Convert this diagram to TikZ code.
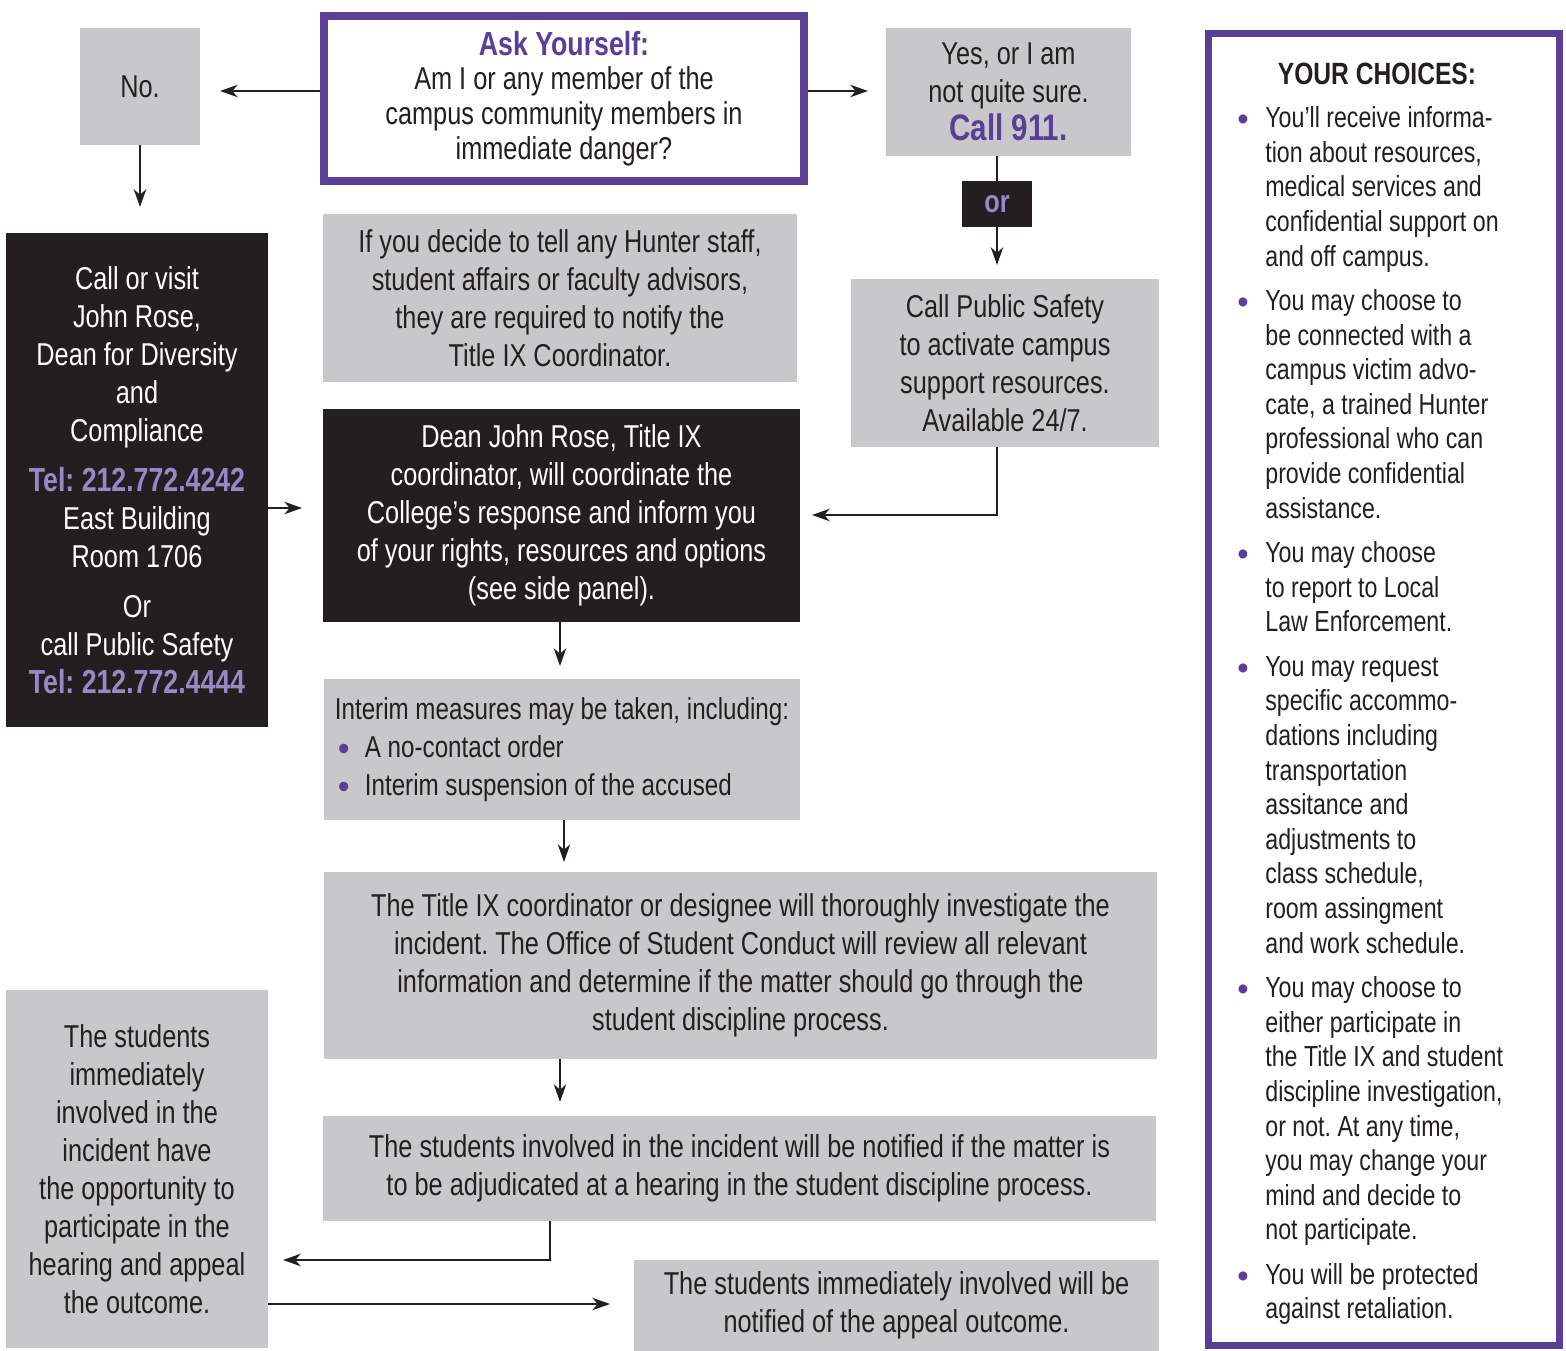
\documentclass[tikz,border=0pt]{standalone}
\usepackage{fontspec}
\usepackage{graphicx}
\setmainfont{Liberation Sans}[FakeStretch=0.8]
\frenchspacing
\usetikzlibrary{arrows.meta}
\definecolor{boxgray}{RGB}{200,200,202}
\definecolor{boxblack}{RGB}{35,31,32}
\definecolor{inkblack}{RGB}{35,31,32}
\definecolor{hunterpurple}{RGB}{90,62,152}
\definecolor{lightpurple}{RGB}{152,136,198}
\newcommand{\bigdot}{\raisebox{-0.1em}{\scalebox{1.4}[1.15]{\textcolor{hunterpurple}{\textbullet}}}}
\newcommand{\purpdot}{\makebox[0.56cm][l]{\bigdot}}
\newcommand{\interimdot}{\makebox[0.6cm][l]{\hspace{0.06cm}\bigdot}}

\begin{document}
\begin{tikzpicture}[x=0.02cm, y=-0.02cm,
	graybox/.style={fill=boxgray, text=inkblack, inner sep=0pt, align=center, font=\fontsize{18}{21.6}\selectfont},
	darkbox/.style={fill=boxblack, text=white, inner sep=0pt, align=center, font=\fontsize{18}{21.6}\selectfont},
	purplebox/.style={draw=hunterpurple, fill=white, text=inkblack, inner sep=0pt, align=center, font=\fontsize{18}{19.8}\selectfont},
	arr/.style={-{Stealth[length=10pt,width=7pt,inset=3pt]}, line width=1.3pt, draw=inkblack}]
	\useasboundingbox (0,0) rectangle (1566,1351);

	% question and first answers
	\node[purplebox, line width=4.5pt, minimum width=9.6cm, minimum height=3.3cm] (ask) at (564,98.5) {{\fontsize{19}{19.8}\selectfont\bfseries\color{hunterpurple}Ask Yourself:}\\Am I or any member of the\\campus community members in\\immediate danger?};
	\node[graybox, minimum width=2.4cm, minimum height=2.34cm] (no) at (140,86.5) {No.};
	\node[graybox, minimum width=4.9cm, minimum height=2.56cm] (yes) at (1008.5,92) {Yes, or I am\\not quite sure.\\{\fontsize{21}{21.6}\selectfont\bfseries\color{hunterpurple}Call 911.}};
	\node[graybox, minimum width=6.16cm, minimum height=3.36cm] (ps) at (1005,363) {Call Public Safety\\to activate campus\\support resources.\\Available 24/7.};
	\node[darkbox, minimum width=5.24cm, minimum height=9.88cm] (john) at (137,480) {Call or visit\\John Rose,\\Dean for Diversity\\and\\Compliance\\[7pt]{\fontsize{19}{21.6}\selectfont\bfseries\color{lightpurple}Tel: 212.772.4242}\\East Building\\Room 1706\\[7pt]Or\\call Public Safety\\{\fontsize{19}{21.6}\selectfont\bfseries\color{lightpurple}Tel: 212.772.4444}};

	% middle column
	\node[graybox, minimum width=9.48cm, minimum height=3.36cm] (hunter) at (560,298) {If you decide to tell any Hunter staff,\\student affairs or faculty advisors,\\they are required to notify the\\Title IX Coordinator.};
	\node[darkbox, minimum width=9.54cm, minimum height=4.26cm] (dean) at (561.5,515.5) {Dean John Rose, Title IX\\coordinator, will coordinate the\\College’s response and inform you\\of your rights, resources and options\\(see side panel).};
	\node[graybox, align=left, font=\fontsize{17.2}{21.6}\selectfont, minimum width=9.52cm, minimum height=2.82cm] (interim) at (562,749.5) {Interim measures may be taken, including:\\\interimdot A no-contact order\\\interimdot Interim suspension of the accused};
	\node[graybox, minimum width=16.66cm, minimum height=3.74cm] (title) at (740.5,965.5) {The Title IX coordinator or designee will thoroughly investigate the\\incident. The Office of Student Conduct will review all relevant\\information and determine if the matter should go through the\\student discipline process.};
	\node[graybox, minimum width=16.66cm, minimum height=2.1cm] (notified) at (739.5,1168.5) {The students involved in the incident will be notified if the matter is\\to be adjudicated at a hearing in the student discipline process.};
	\node[graybox, minimum width=5.24cm, minimum height=7.16cm] (students) at (137,1169) {The students\\immediately\\involved in the\\incident have\\the opportunity to\\participate in the\\hearing and appeal\\the outcome.};
	\node[graybox, minimum width=10.5cm, minimum height=1.82cm] (appeal) at (896.5,1305.5) {The students immediately involved will be\\notified of the appeal outcome.};

	% side panel
	\node[purplebox, line width=4pt, minimum width=7.02cm, minimum height=26.24cm] (choices) at (1384,689.5) {};
	\node[text=inkblack, font=\fontsize{17.5}{20}\selectfont\bfseries] (choicestitle) at (1377,74) {YOUR CHOICES:};
	\node[anchor=north west, inner sep=0pt, text=inkblack, font=\fontsize{16.5}{19.7}\selectfont] (choiceslist) at (1237,103) {%
		\begin{tabular}{@{}l@{}l@{}}
			\purpdot & You’ll receive informa-\\
			& tion about resources,\\
			& medical services and\\
			& confidential support on\\
			& and off campus.\\[5.6pt]
			\purpdot & You may choose to\\
			& be connected with a\\
			& campus victim advo-\\
			& cate, a trained Hunter\\
			& professional who can\\
			& provide confidential\\
			& assistance.\\[5.6pt]
			\purpdot & You may choose\\
			& to report to Local\\
			& Law Enforcement.\\[5.6pt]
			\purpdot & You may request\\
			& specific accommo-\\
			& dations including\\
			& transportation\\
			& assitance and\\
			& adjustments to\\
			& class schedule,\\
			& room assingment\\
			& and work schedule.\\[5.6pt]
			\purpdot & You may choose to\\
			& either participate in\\
			& the Title IX and student\\
			& discipline investigation,\\
			& or not. At any time,\\
			& you may change your\\
			& mind and decide to\\
			& not participate.\\[5.6pt]
			\purpdot & You will be protected\\
			& against retaliation.
		\end{tabular}};

	% arrow ends
	\coordinate (noin) at (220,91);
	\coordinate (yesin) at (868,91);
	\coordinate (johnin) at (140,207);
	\coordinate (psin) at (997,265);
	\coordinate (deanright) at (812,515);
	\coordinate (deanleft) at (302,508);
	\coordinate (interimin) at (560,666);
	\coordinate (titlein) at (564,862);
	\coordinate (notifiedin) at (560,1102);
	\coordinate (studentsin) at (283,1260);
	\coordinate (appealin) at (610,1304);

	\draw[arr] (ask.west |- noin) -- (noin);
	\draw[arr] (ask.east |- yesin) -- (yesin);
	\draw[arr] (no.south) -- (johnin);
	\draw[arr] (yes.south -| psin) -- (psin);
	\node[darkbox, minimum width=1.4cm, minimum height=0.92cm, font=\fontsize{18}{21.6}\selectfont\bfseries, text=lightpurple] (or) at (997,204) {or};
	\draw[arr] (ps.south -| psin) |- (deanright);
	\draw[arr] (john.east |- deanleft) -- (deanleft);
	\draw[arr] (dean.south -| interimin) -- (interimin);
	\draw[arr] (interim.south -| titlein) -- (titlein);
	\draw[arr] (title.south -| notifiedin) -- (notifiedin);
	\draw[arr] (notified.south -| 550,0) |- (studentsin);
	\draw[arr] (students.east |- appealin) -- (appealin);
\end{tikzpicture}
\end{document}
